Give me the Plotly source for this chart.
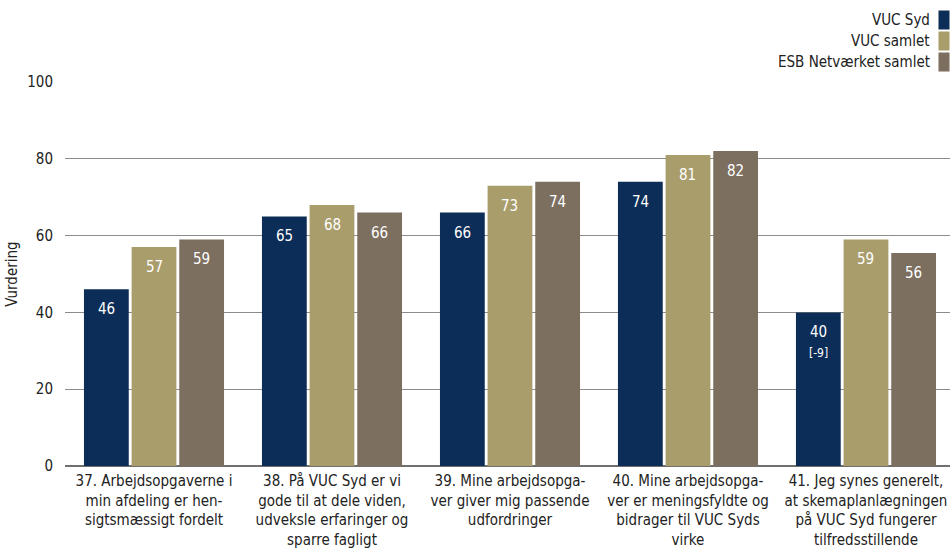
import plotly.graph_objects as go

categories = [
    "37. Arbejdsopgaverne i<br>min afdeling er hen-<br>sigtsmæssigt fordelt",
    "38. På VUC Syd er vi<br>gode til at dele viden,<br>udveksle erfaringer og<br>sparre fagligt",
    "39. Mine arbejdsopga-<br>ver giver mig passende<br>udfordringer",
    "40. Mine arbejdsopga-<br>ver er meningsfyldte og<br>bidrager til VUC Syds<br>virke",
    "41. Jeg synes generelt,<br>at skemaplanlægningen<br>på VUC Syd fungerer<br>tilfredsstillende",
]
series_names = ["VUC Syd", "VUC samlet", "ESB Netværket samlet"]
vuc_syd = [46, 65, 66, 74, 40]
vuc_samlet = [57, 68, 73, 81, 59]
esb_samlet = [59, 66, 74, 82, 55.5]
vuc_syd_labels = ["46", "65", "66", "74", "40<br><span style='font-size:12px'>[-9]</span>"]
colors = ["#0c2d57", "#a99d6c", "#7c6f5f"]
y_ticks = [0, 20, 40, 60, 80, 100]

FONT = "DejaVu Sans Condensed"
FS = 15
L, R, T, B = 65, 0, 82, 82
W, H = 950, 548
PW, PH = W - L - R, H - T - B

BARGAP = 0.197
slot = (1 - BARGAP) / 3

fig = go.Figure()
all_vals = [vuc_syd, vuc_samlet, esb_samlet]
for i, (name, vals) in enumerate(zip(series_names, all_vals)):
    fig.add_trace(go.Bar(
        x=categories, y=vals, name=name,
        marker=dict(color=colors[i], line=dict(width=0)),
        showlegend=False, hoverinfo="x+y+name",
    ))
    labels = vuc_syd_labels if i == 0 else [f"{v:.0f}" for v in vals]
    for j, (v, lab) in enumerate(zip(vals, labels)):
        fig.add_annotation(
            x=j + (i - 1) * slot, y=v, xref="x", yref="y",
            text=lab, showarrow=False, yanchor="top", xanchor="center",
            yshift=-9, font=dict(color="white", size=FS, family=FONT),
        )

# custom legend (swatch on the right)
for i, name in enumerate(series_names):
    ypx = 20 + 20.8 * i
    yp = (H - B - ypx) / PH
    fig.add_annotation(xref="paper", yref="paper", x=(932 - L) / PW, y=yp,
                       text=name, showarrow=False, xanchor="right", yanchor="middle",
                       font=dict(size=FS, color="#222", family=FONT))
    fig.add_annotation(xref="paper", yref="paper", x=(944 - L) / PW, y=yp,
                       text=" ", showarrow=False, xanchor="center", yanchor="middle",
                       width=10, height=18, bgcolor=colors[i], borderpad=0,
                       font=dict(size=4))

fig.update_layout(
    width=W, height=H,
    margin=dict(l=L, r=R, t=T, b=B, autoexpand=False),
    plot_bgcolor="white", paper_bgcolor="white",
    barmode="group", bargap=BARGAP, bargroupgap=0.06,
    font=dict(family=FONT, size=FS, color="#222"),
)
fig.update_yaxes(
    range=[0, 100], tickvals=y_ticks, showgrid=True, gridcolor="#8c8c8c", gridwidth=1.3,
    zeroline=True, zerolinecolor="#707070", zerolinewidth=1.5,
    title=dict(text="Vurdering", standoff=5, font=dict(size=FS)),
    ticks="", ticklabelstandoff=11, tickfont=dict(size=FS), automargin=False,
)
fig.update_xaxes(tickfont=dict(size=FS), ticks="", showline=False, automargin=False,
                 range=[-0.5, 4.472], ticklabelstandoff=4)

fig.write_html("out.html", config={"displayModeBar": False},
               post_script="document.body.style.margin='0';document.body.style.overflow='hidden';")
